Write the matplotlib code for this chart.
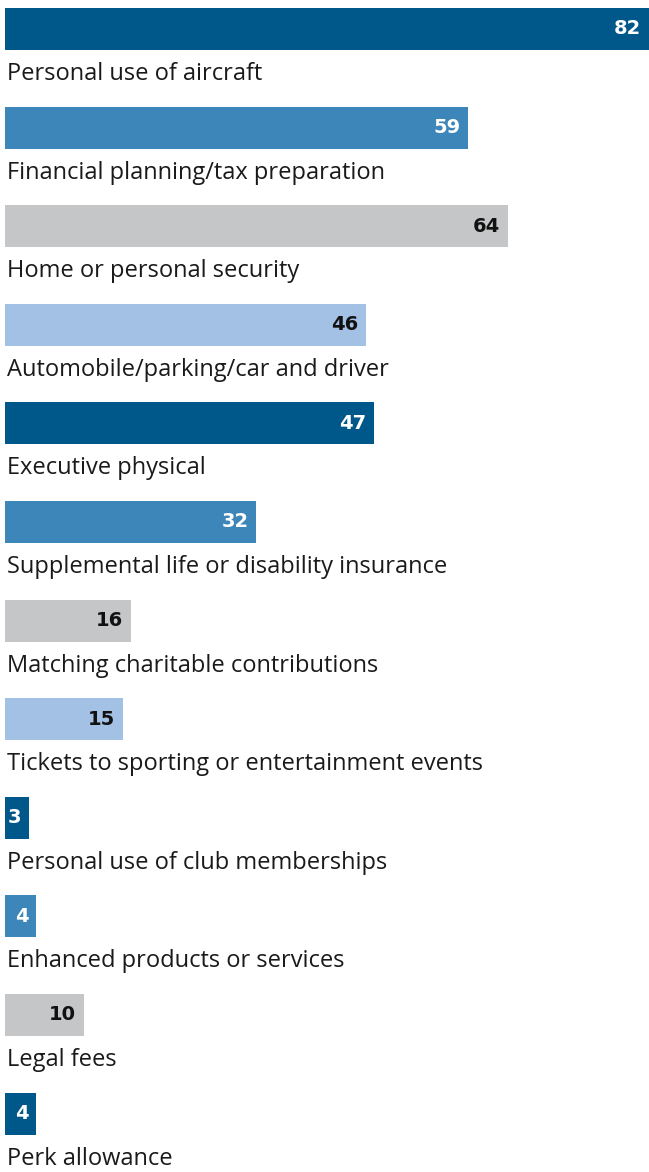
import matplotlib.pyplot as plt

categories = [
    "Personal use of aircraft",
    "Financial planning/tax preparation",
    "Home or personal security",
    "Automobile/parking/car and driver",
    "Executive physical",
    "Supplemental life or disability insurance",
    "Matching charitable contributions",
    "Tickets to sporting or entertainment events",
    "Personal use of club memberships",
    "Enhanced products or services",
    "Legal fees",
    "Perk allowance",
]
values = [82, 59, 64, 46, 47, 32, 16, 15, 3, 4, 10, 4]

DARK, MID, GREY, LIGHT = "#00578A", "#3D86BA", "#C5C6C8", "#A2C1E5"
bar_colors = [DARK, MID, GREY, LIGHT, DARK, MID, GREY, LIGHT, DARK, MID, GREY, DARK]

plt.rcParams["font.family"] = ["Open Sans", "DejaVu Sans"]

fig = plt.figure(figsize=(6.49, 11.72), dpi=100)
ax = fig.add_axes([0, 0, 1, 1])

px_x = 644 / 82   # pixels per unit
px_y = 98.6       # pixels per row
bar_h = 42 / px_y

ax.set_xlim(-5 / px_x, -5 / px_x + 649 / px_x)
ax.set_ylim(-29 / px_y + 1172 / px_y, -29 / px_y)

for i, (cat, v) in enumerate(zip(categories, values)):
    col = bar_colors[i]
    ax.barh(i, v, height=bar_h, color=col, left=0)
    txt_col = "white" if col in (DARK, MID) else "#111111"
    ax.annotate(str(v), xy=(v, i), xytext=(-5.5, 0), textcoords="offset points",
                ha="right", va="center", fontsize=14, fontweight="bold",
                family="DejaVu Sans", color=txt_col, annotation_clip=False)
    ax.text(2 / px_x, i + bar_h / 2 + 30 / px_y, cat, ha="left", va="baseline",
            fontsize=17, color="#1a1a1a")

ax.axis("off")
fig.savefig("out.png", dpi=100)
